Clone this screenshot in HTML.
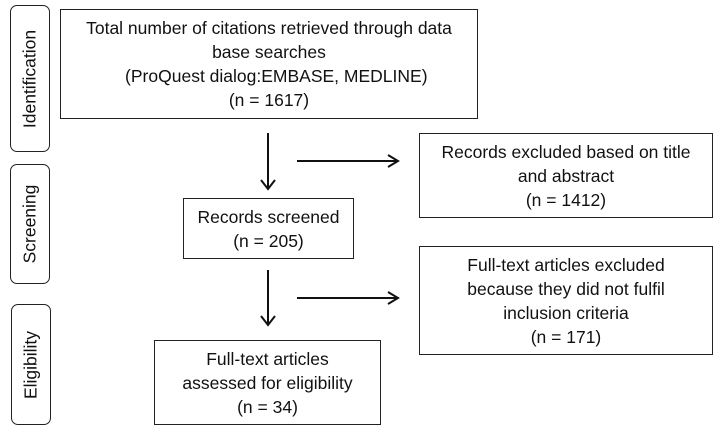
<!DOCTYPE html>
<html><head><meta charset="utf-8"><style>
body{margin:0;width:720px;height:437px;background:#fff;position:relative;overflow:hidden;font-family:"Liberation Sans",sans-serif;color:#111}
.b{position:absolute;border:1.8px solid #222;box-sizing:border-box;display:flex;flex-direction:column;justify-content:center;align-items:center;text-align:center;font-size:17.5px;line-height:24px;white-space:nowrap}
.s{position:absolute;border:1.8px solid #222;border-radius:7px;box-sizing:border-box}
.s span{position:absolute;left:50%;top:50%;transform:translate(-50%,-50%) rotate(-90deg);font-size:17.5px;white-space:nowrap}
svg{position:absolute;left:0;top:0}
</style></head><body>
<div class="s" style="left:10px;top:5px;width:40px;height:147px"><span>Identification</span></div>
<div class="s" style="left:10px;top:164px;width:40px;height:120px"><span>Screening</span></div>
<div class="s" style="left:11px;top:304px;width:40px;height:121px"><span>Eligibility</span></div>
<div class="b" style="left:60px;top:9px;width:418px;height:110px"><div>Total number of citations retrieved through data</div><div>base searches</div><div>&nbsp;&nbsp;&nbsp;(ProQuest dialog:EMBASE, MEDLINE)</div><div>(n = 1617)</div></div>
<div class="b" style="left:183px;top:198px;width:171px;height:61px"><div>Records screened</div><div>(n = 205)</div></div>
<div class="b" style="left:154px;top:340px;width:227px;height:85px"><div>Full-text articles</div><div>assessed for eligibility</div><div>(n = 34)</div></div>
<div class="b" style="left:419px;top:133px;width:294px;height:85px"><div>Records excluded based on title</div><div>and abstract</div><div>(n = 1412)</div></div>
<div class="b" style="left:419px;top:246px;width:294px;height:109px"><div>Full-text articles excluded</div><div>because they did not fulfil</div><div>inclusion criteria</div><div>(n = 171)</div></div>
<svg width="720" height="437" stroke="#111" stroke-width="2" fill="none">
<path d="M268 133V188M261 180L268 189L275 180"/>
<path d="M297 161H397M388 155L398 161L388 167"/>
<path d="M268 270V324M261 316L268 325L275 316"/>
<path d="M297 298H397M388 292L398 298L388 304"/>
</svg>
</body></html>
